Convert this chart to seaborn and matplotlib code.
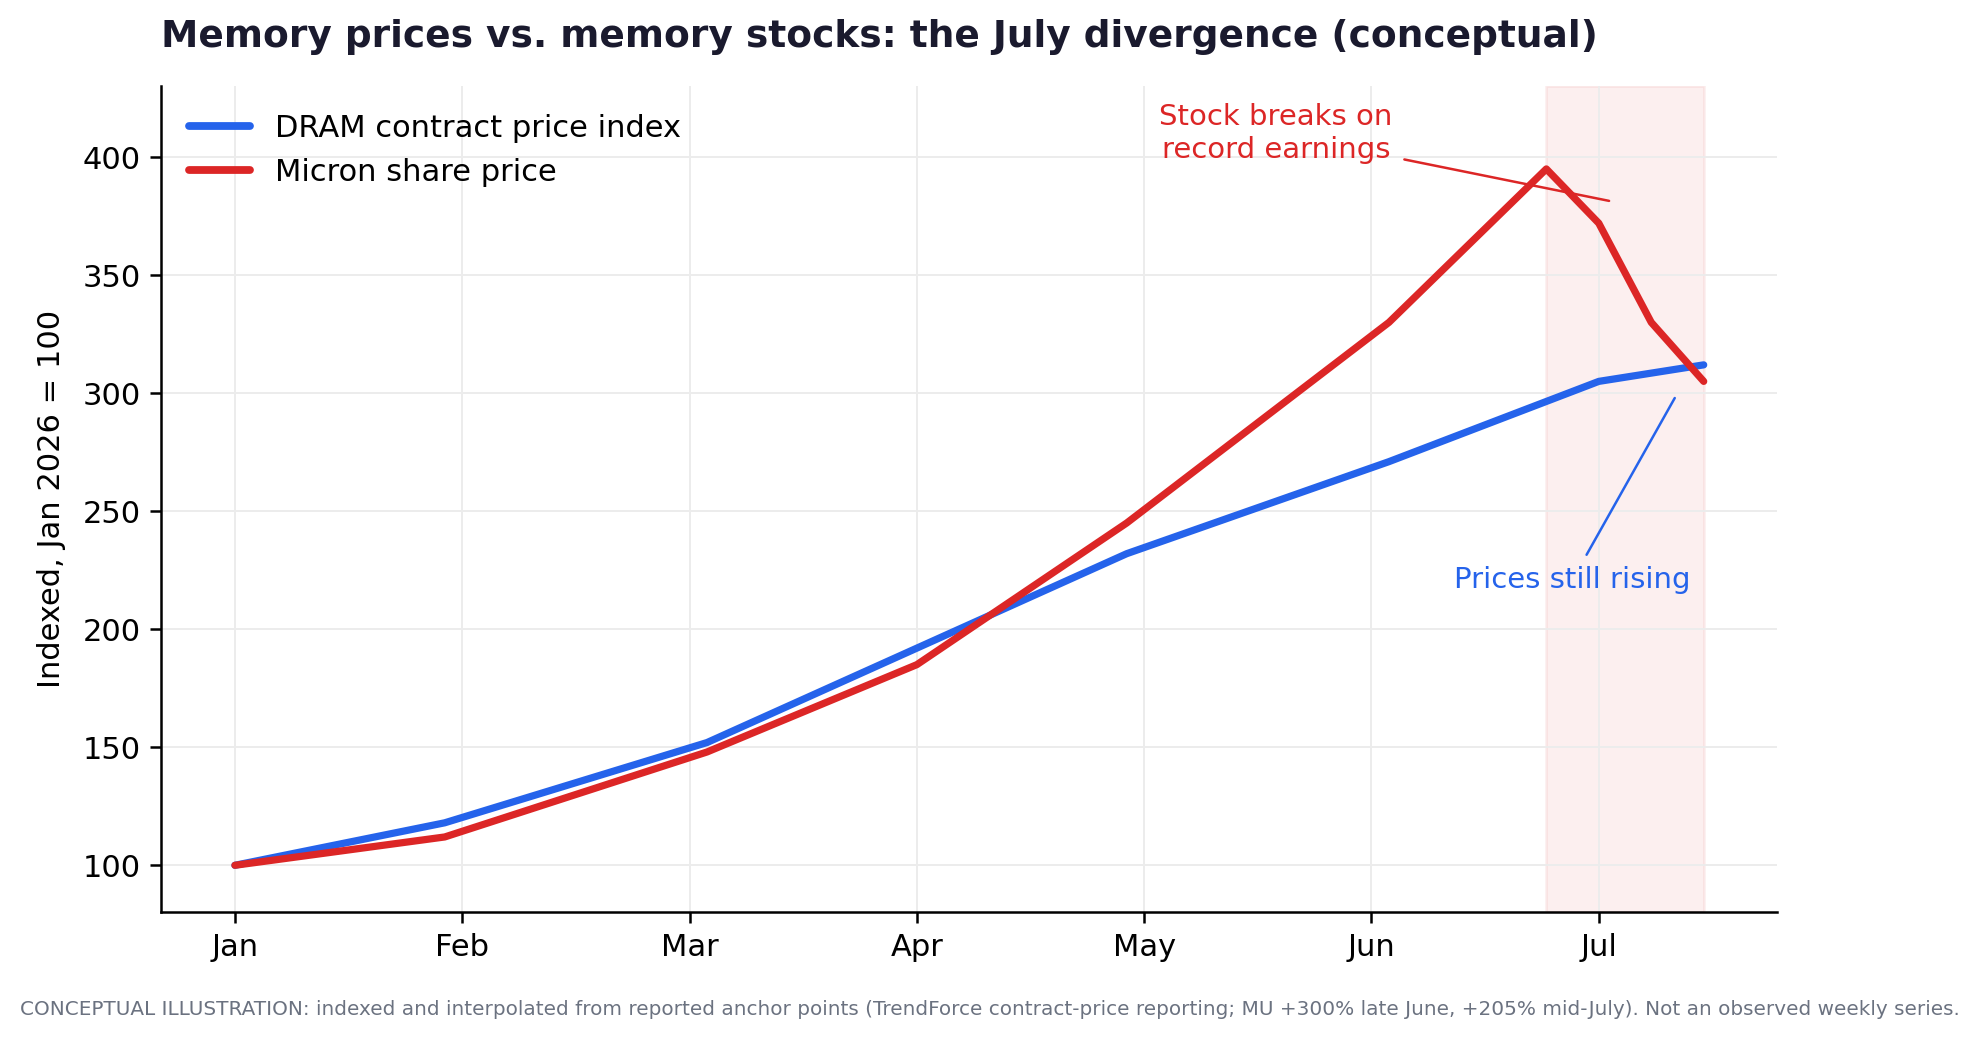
import matplotlib
matplotlib.use("Agg")
import matplotlib.pyplot as plt
import numpy as np
import pandas as pd
import seaborn as sns

# Weekly index (week 0 = first week of Jan 2026); only the anchor weeks are listed.
DRAM_WEEKS = [0, 4, 9, 13, 17, 22, 26, 28]
DRAM_INDEX = [100, 118, 152, 192, 232, 271, 305, 312]

MU_WEEKS = [0, 4, 9, 13, 17, 22, 25, 26, 27, 28]
MU_INDEX = [100, 112, 148, 185, 245, 330, 395, 372, 330, 305]

MONTH_LABELS = ["Jan", "Feb", "Mar", "Apr", "May", "Jun", "Jul"]
SERIES_NAMES = ["DRAM contract price index", "Micron share price"]

BLUE = "#2563eb"
RED = "#dc2626"

long_df = pd.concat(
    [
        pd.DataFrame({"week": DRAM_WEEKS, "index": DRAM_INDEX, "series": SERIES_NAMES[0]}),
        pd.DataFrame({"week": MU_WEEKS, "index": MU_INDEX, "series": SERIES_NAMES[1]}),
    ],
    ignore_index=True,
)

sns.set_theme(style="whitegrid")
plt.rcParams["font.family"] = ["DejaVu Sans"]
plt.rcParams["text.color"] = "black"
plt.rcParams["axes.labelcolor"] = "black"
plt.rcParams["xtick.color"] = "black"
plt.rcParams["ytick.color"] = "black"

fig, ax = plt.subplots(figsize=(9.895, 5.2), dpi=200)
fig.subplots_adjust(left=0.0816, right=0.898, top=0.917, bottom=0.1226)

# the July break window
ax.axvspan(25, 28, color=RED, alpha=0.07, lw=1.0, zorder=0)

sns.lineplot(
    data=long_df, x="week", y="index",
    hue="series", hue_order=SERIES_NAMES,
    palette={SERIES_NAMES[0]: BLUE, SERIES_NAMES[1]: RED},
    linewidth=2.6, ax=ax, sort=False,
)

ax.set_ylim(80, 430)
ax.set_xticks(np.arange(len(MONTH_LABELS)) * 52 / 12)
ax.set_xticklabels(MONTH_LABELS)
ax.set_xlabel("")
ax.set_ylabel("Indexed, Jan 2026 = 100", fontsize=11, labelpad=6)
ax.tick_params(axis="both", labelsize=11, left=True, bottom=True,
               length=4, width=0.9, color="black", pad=3.5)
ax.grid(True, color="#ececec", linewidth=0.7)
sns.despine(ax=ax)
for side in ("left", "bottom"):
    ax.spines[side].set_color("black")
    ax.spines[side].set_linewidth(0.9)

leg = ax.legend(loc="upper left", frameon=False, fontsize=11, handlelength=2.0)
for h in leg.get_lines():
    h.set_linewidth(2.8)

ax.annotate(
    "Stock breaks on\nrecord earnings",
    xy=(26.3, 381), xytext=(19.85, 410),
    ha="center", va="center", color=RED, fontsize=10.5,
    arrowprops=dict(arrowstyle="-", color=RED, lw=0.9),
)
ax.annotate(
    "Prices still rising",
    xy=(27.5, 300), xytext=(25.5, 221),
    ha="center", va="center", color=BLUE, fontsize=10.5,
    arrowprops=dict(arrowstyle="-", color=BLUE, lw=0.9),
)

ax.set_title(
    "Memory prices vs. memory stocks: the July divergence (conceptual)",
    loc="left", fontsize=13.5, fontweight="bold", color="#1a1a2e", pad=14,
)

fig.text(
    0.5, 0.029,
    "CONCEPTUAL ILLUSTRATION: indexed and interpolated from reported anchor points "
    "(TrendForce contract-price reporting; MU +300% late June, +205% mid-July). "
    "Not an observed weekly series.",
    ha="center", va="center", fontsize=7.2, color="#6b7280",
)

fig.savefig("out.png", dpi=200)
plt.close(fig)
